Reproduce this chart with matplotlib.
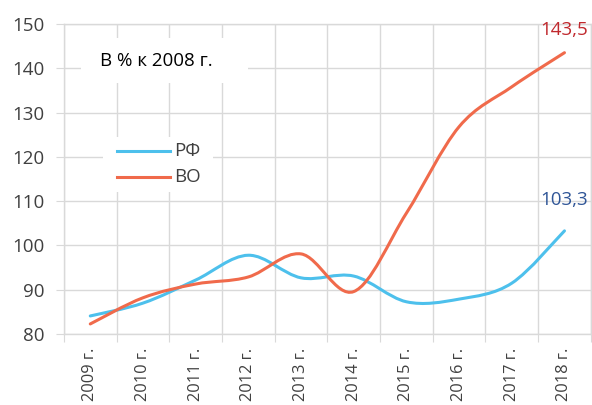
import matplotlib
matplotlib.use("Agg")
import matplotlib.pyplot as plt
from matplotlib.path import Path
from matplotlib.patches import PathPatch, Rectangle
from matplotlib.lines import Line2D
import numpy as np

years = ["2009 г.", "2010 г.", "2011 г.", "2012 г.", "2013 г.", "2014 г.",
         "2015 г.", "2016 г.", "2017 г.", "2018 г."]
rf = [84.1, 87.0, 92.2, 97.8, 92.7, 93.1, 87.3, 87.9, 91.5, 103.3]
vo = [82.3, 88.2, 91.3, 92.9, 98.1, 89.6, 107.3, 126.8, 135.8, 143.5]
series_names = ["РФ", "ВО"]
colors = ["#4DC0EC", "#F06A4B"]
label_colors = ["#2F5597", "#C0282D"]

FS = 13.5
plt.rcParams['font.family'] = ['Open Sans', 'DejaVu Sans']
fig = plt.figure(figsize=(5.92, 4.05), dpi=100)
ax = fig.add_axes([0.108, 0.175, 0.89, 0.766])

xs = np.arange(1, len(years) + 1)
grid_c = "#D9D9D9"
txt_c = "#404040"


def smooth_path(x, y):
    pts = np.column_stack([x, y]).astype(float)
    verts = [pts[0]]
    codes = [Path.MOVETO]
    n = len(pts)
    for i in range(n - 1):
        p0 = pts[i - 1] if i > 0 else pts[i]
        p1 = pts[i]
        p2 = pts[i + 1]
        p3 = pts[i + 2] if i + 2 < n else pts[i + 1]
        c1 = p1 + (p2 - p0) / 6.0
        c2 = p2 - (p3 - p1) / 6.0
        verts += [c1, c2, p2]
        codes += [Path.CURVE4] * 3
    return Path(verts, codes)


for vals, c in zip([rf, vo], colors):
    patch = PathPatch(smooth_path(xs, vals), fill=False, edgecolor=c, lw=2.2,
                      capstyle='round', zorder=3)
    ax.add_patch(patch)

ax.set_xlim(0.5, len(years) + 0.5)
ax.set_ylim(80, 150)
ax.set_yticks(np.arange(80, 151, 10))
ax.set_xticks(np.arange(0.5, len(years) + 1, 1))
ax.set_xticks(xs, minor=True)
ax.set_xticklabels([])
ax.set_xticklabels(years, minor=True, rotation=90)
ax.grid(True, which='major', color=grid_c, lw=1.0, zorder=0)
for s in ax.spines.values():
    s.set_color(grid_c)
    s.set_linewidth(1.0)
ax.tick_params(axis='y', which='major', length=6, color=grid_c, labelsize=FS,
               labelcolor=txt_c, pad=8)
ax.tick_params(axis='x', which='major', length=6, color=grid_c)
ax.tick_params(axis='x', which='minor', length=0, labelsize=11.8,
               labelcolor=txt_c, pad=10)

# data labels
ax.text(xs[-1], 110.3, "103,3", ha='center', va='center', fontsize=FS,
        color=label_colors[0], zorder=5)
ax.text(xs[-1], 148.6, "143,5", ha='center', va='center', fontsize=FS,
        color=label_colors[1], zorder=5)

# title box
ax.add_patch(Rectangle((0.032, 0.81), 0.317, 0.145, transform=ax.transAxes,
                       facecolor='white', edgecolor='none', zorder=2))
ax.text(0.175, 0.88, "В % к 2008 г.", transform=ax.transAxes, ha='center',
        va='center', fontsize=FS, color="#000000", zorder=5)

# legend (manual)
ax.add_patch(Rectangle((0.074, 0.458), 0.209, 0.177, transform=ax.transAxes,
                       facecolor='white', edgecolor='none', zorder=2))
leg_y = [0.591, 0.506]
for name, c, yy in zip(series_names, colors, leg_y):
    ax.add_line(Line2D([0.1006, 0.2011], [yy, yy], transform=ax.transAxes,
                       color=c, lw=2.2, zorder=4))
    ax.text(0.21, yy, name, transform=ax.transAxes, ha='left', va='center',
            fontsize=FS, color=txt_c, zorder=5)

fig.savefig("out.png", dpi=100)
